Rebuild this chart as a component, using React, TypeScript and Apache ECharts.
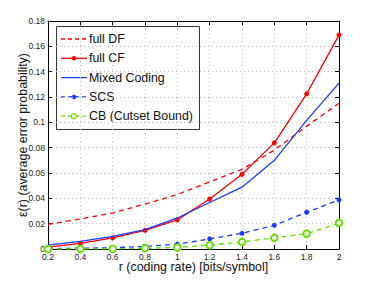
import React, { useEffect, useRef } from "react";
import * as echarts from "echarts";

const rates = [0.2, 0.4, 0.6, 0.8, 1.0, 1.2, 1.4, 1.6, 1.8, 2.0];
const fullDF = [0.0195, 0.0237, 0.0285, 0.0355, 0.043, 0.053, 0.063, 0.078, 0.097, 0.115];
const fullCF = [0.0014, 0.0045, 0.0088, 0.0147, 0.023, 0.0395, 0.059, 0.0838, 0.1225, 0.169];
const mixed = [0.003, 0.006, 0.010, 0.0153, 0.0245, 0.0367, 0.0488, 0.070, 0.1015, 0.131];
const scs = [0.0005, 0.0006, 0.001, 0.002, 0.0038, 0.008, 0.0124, 0.0187, 0.029, 0.0388];
const cb = [0.0, 0.0, 0.0002, 0.0006, 0.0012, 0.003, 0.0056, 0.0088, 0.012, 0.0205];

const names = ["full DF", "full CF", "Mixed Coding", "SCS", "CB (Cutset Bound)"];

const zip = (ys: number[]) => rates.map((x, i) => [x, ys[i]]);

export default function App() {
  const ref = useRef<HTMLDivElement>(null);
  useEffect(() => {
    if (!ref.current) return;
    const chart = echarts.init(ref.current, undefined, { renderer: "svg" });
    const font = "Liberation Sans, Arial, Helvetica, sans-serif";
    const fmt = (v: number) => String(Math.round(v * 100) / 100);
    const red = "#ff0000";
    const blue = "#1a3cff";
    const green = "#66e000";
    const dash = [5, 4];

    const legendSpec = [
      { color: red, dashed: true, marker: "none" },
      { color: red, dashed: false, marker: "dot" },
      { color: blue, dashed: false, marker: "none" },
      { color: blue, dashed: true, marker: "dot" },
      { color: green, dashed: true, marker: "ring" },
    ];
    const legendChildren: any[] = [
      {
        type: "rect",
        shape: { x: 56.5, y: 26.5, width: 143, height: 103 },
        style: { fill: "#fff", stroke: "#333", lineWidth: 1 },
      },
    ];
    legendSpec.forEach((s, i) => {
      const y = 39 + i * 19.3;
      legendChildren.push({
        type: "line",
        shape: { x1: 61, y1: y, x2: 87, y2: y },
        style: { stroke: s.color, lineWidth: 1.3, lineDash: s.dashed ? [4, 3] : null },
      });
      if (s.marker === "dot") {
        legendChildren.push({
          type: "circle",
          shape: { cx: 74, cy: y, r: 2.3 },
          style: { fill: s.color },
        });
      } else if (s.marker === "ring") {
        legendChildren.push({
          type: "circle",
          shape: { cx: 74, cy: y, r: 2.6 },
          style: { fill: "#fff", stroke: s.color, lineWidth: 1.3 },
        });
      }
      legendChildren.push({
        type: "text",
        x: 89,
        y: y,
        style: {
          text: names[i],
          font: `12.4px ${font}`,
          fill: "#111",
          verticalAlign: "middle",
          align: "left",
        },
      });
    });

    chart.setOption({
      animation: false,
      backgroundColor: "#ffffff",
      textStyle: { fontFamily: font },
      grid: { left: 48, right: 35, top: 21, bottom: 32, containLabel: false },
      graphic: [{ type: "group", z: 100, children: legendChildren }],
      xAxis: [
        {
          type: "value",
          min: 0.2,
          max: 2,
          interval: 0.2,
          name: "r (coding rate) [bits/symbol]",
          nameLocation: "middle",
          nameGap: 12,
          nameMoveOverlap: false,
          nameTextStyle: { fontSize: 12.4, color: "#111", fontFamily: font },
          axisLine: { show: true, onZero: false, lineStyle: { color: "#000", width: 1 } },
          axisTick: { show: true, inside: true, length: 4, lineStyle: { color: "#000" } },
          axisLabel: { fontSize: 8.5, color: "#222", margin: 3, formatter: fmt },
          splitLine: { show: true, lineStyle: { type: [1, 3], color: "#bbb", width: 1 } },
        },
        {
          type: "value",
          position: "top",
          min: 0.2,
          max: 2,
          interval: 0.2,
          axisLine: { show: true, onZero: false, lineStyle: { color: "#000", width: 1 } },
          axisTick: { show: true, inside: true, length: 4, lineStyle: { color: "#000" } },
          axisLabel: { show: false },
          splitLine: { show: false },
        },
      ],
      yAxis: [
        {
          type: "value",
          min: 0,
          max: 0.18,
          interval: 0.02,
          name: "ε(r) (average error probability)",
          nameLocation: "middle",
          nameGap: 19,
          nameMoveOverlap: false,
          nameTextStyle: { fontSize: 12.4, color: "#111", fontFamily: font },
          axisLine: { show: true, onZero: false, lineStyle: { color: "#000", width: 1 } },
          axisTick: { show: true, inside: true, length: 4, lineStyle: { color: "#000" } },
          axisLabel: { fontSize: 8.5, color: "#222", margin: 3, formatter: fmt },
          splitLine: { show: true, lineStyle: { type: [1, 3], color: "#bbb", width: 1 } },
        },
        {
          type: "value",
          position: "right",
          min: 0,
          max: 0.18,
          interval: 0.02,
          axisLine: { show: true, onZero: false, lineStyle: { color: "#000", width: 1 } },
          axisTick: { show: true, inside: true, length: 4, lineStyle: { color: "#000" } },
          axisLabel: { show: false },
          splitLine: { show: false },
        },
      ],
      series: [
        {
          name: names[0],
          type: "line",
          data: zip(fullDF),
          symbol: "none",
          lineStyle: { color: red, width: 1.3, type: dash },
          itemStyle: { color: red },
          z: 2,
        },
        {
          name: names[1],
          type: "line",
          data: zip(fullCF),
          symbol: "circle",
          symbolSize: 5,
          lineStyle: { color: red, width: 1.3 },
          itemStyle: { color: red },
          z: 3,
        },
        {
          name: names[2],
          type: "line",
          data: zip(mixed),
          symbol: "none",
          lineStyle: { color: blue, width: 1.3 },
          itemStyle: { color: blue },
          z: 4,
        },
        {
          name: names[3],
          type: "line",
          data: zip(scs),
          symbol: "circle",
          symbolSize: 5,
          lineStyle: { color: blue, width: 1.3, type: dash },
          itemStyle: { color: blue },
          z: 5,
        },
        {
          name: names[4],
          type: "line",
          data: zip(cb),
          symbol: "emptyCircle",
          symbolSize: 6.5,
          lineStyle: { color: green, width: 1.3, type: dash },
          itemStyle: { color: green, borderWidth: 1.5, borderColor: green },
          z: 6,
        },
      ],
    });
    return () => chart.dispose();
  }, []);
  return (
    <div
      ref={ref}
      style={{ position: "absolute", left: 0, top: 0, width: 374, height: 281 }}
    />
  );
}
